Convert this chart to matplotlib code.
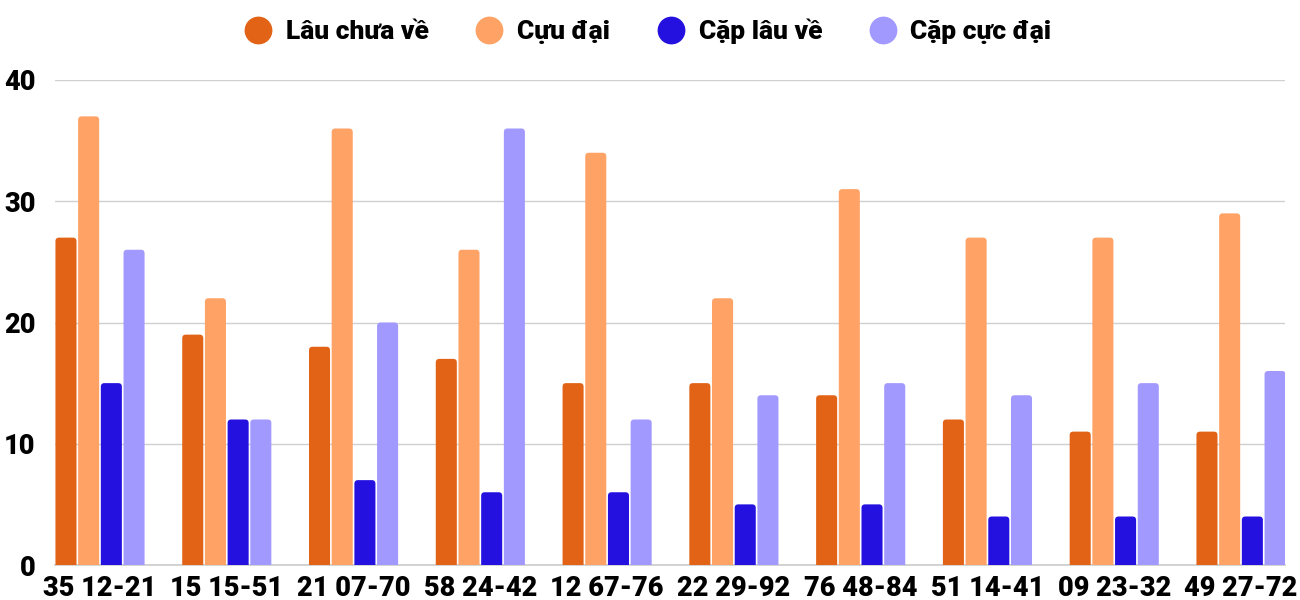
import matplotlib
matplotlib.use("Agg")
import matplotlib.pyplot as plt
from matplotlib.patches import FancyBboxPatch
from matplotlib.lines import Line2D
import numpy as np

categories = ["35 12-21", "15 15-51", "21 07-70", "58 24-42", "12 67-76",
              "22 29-92", "76 48-84", "51 14-41", "09 23-32", "49 27-72"]
series_names = ["Lâu chưa về", "Cựu đại", "Cặp lâu về", "Cặp cực đại"]
lau_chua_ve = [27, 19, 18, 17, 15, 15, 14, 12, 11, 11]
cuu_dai = [37, 22, 36, 26, 34, 22, 31, 27, 27, 29]
cap_lau_ve = [15, 12, 7, 6, 6, 5, 5, 4, 4, 4]
cap_cuc_dai = [26, 12, 20, 36, 12, 14, 15, 14, 15, 16]
colors = ["#E26316", "#FEA266", "#2411E0", "#A299FE"]

plt.rcParams['font.family'] = ['Roboto', 'DejaVu Sans']
fig = plt.figure(figsize=(13, 6), dpi=100)
ax = fig.add_axes([55/1300, 1-565/600, 1230/1300, 485/600])

x = np.arange(len(categories))
pitch = 0.179
width = 0.166
all_series = [lau_chua_ve, cuu_dai, cap_lau_ve, cap_cuc_dai]
ax.set_xlim(-0.355, 9.347)
ax.set_ylim(0, 40)

r_x = 0.028
aspect = (1 / 12.125) / (1 / 126.8)
for i, (vals, c) in enumerate(zip(all_series, colors)):
    offs = (i - 1.5) * pitch
    bars = ax.bar(x + offs, vals, width, color=c, alpha=0)
    for rect in bars:
        bx, bw, bh = rect.get_x(), rect.get_width(), rect.get_height()
        p = FancyBboxPatch((bx, -1), bw, bh + 1,
                           boxstyle=f"round,pad=0,rounding_size={r_x}",
                           mutation_aspect=aspect, facecolor=c,
                           edgecolor="none", zorder=3)
        ax.add_patch(p)

ax.set_yticks([0, 10, 20, 30, 40])
ax.yaxis.grid(True, color="#D0D0D0", linewidth=1)
ax.set_axisbelow(True)
ax.set_xticks(x)
ax.set_xticklabels(categories, fontsize=19.5, fontweight='heavy')
for lab in ax.get_yticklabels():
    lab.set_fontsize(19.5)
    lab.set_fontweight('heavy')
ax.tick_params(axis='both', length=0)
ax.tick_params(axis='x', pad=7)
ax.tick_params(axis='y', pad=14)
for s in ["top", "right", "left"]:
    ax.spines[s].set_visible(False)
ax.spines["bottom"].set_color("#CCCCCC")
ax.spines["bottom"].set_linewidth(1.2)

handles = [Line2D([], [], marker='o', linestyle='none', markersize=19,
                  markerfacecolor=c, markeredgecolor=c) for c in colors]
fig.legend(handles, series_names, loc='center', bbox_to_anchor=(0.5 - 3/1300, 1-31/600),
           ncol=4, frameon=False, prop={'family': 'Roboto', 'weight': 'heavy', 'size': 19},
           handletextpad=0.45, columnspacing=1.7, handlelength=1.2)

fig.savefig("out.png", dpi=100)
